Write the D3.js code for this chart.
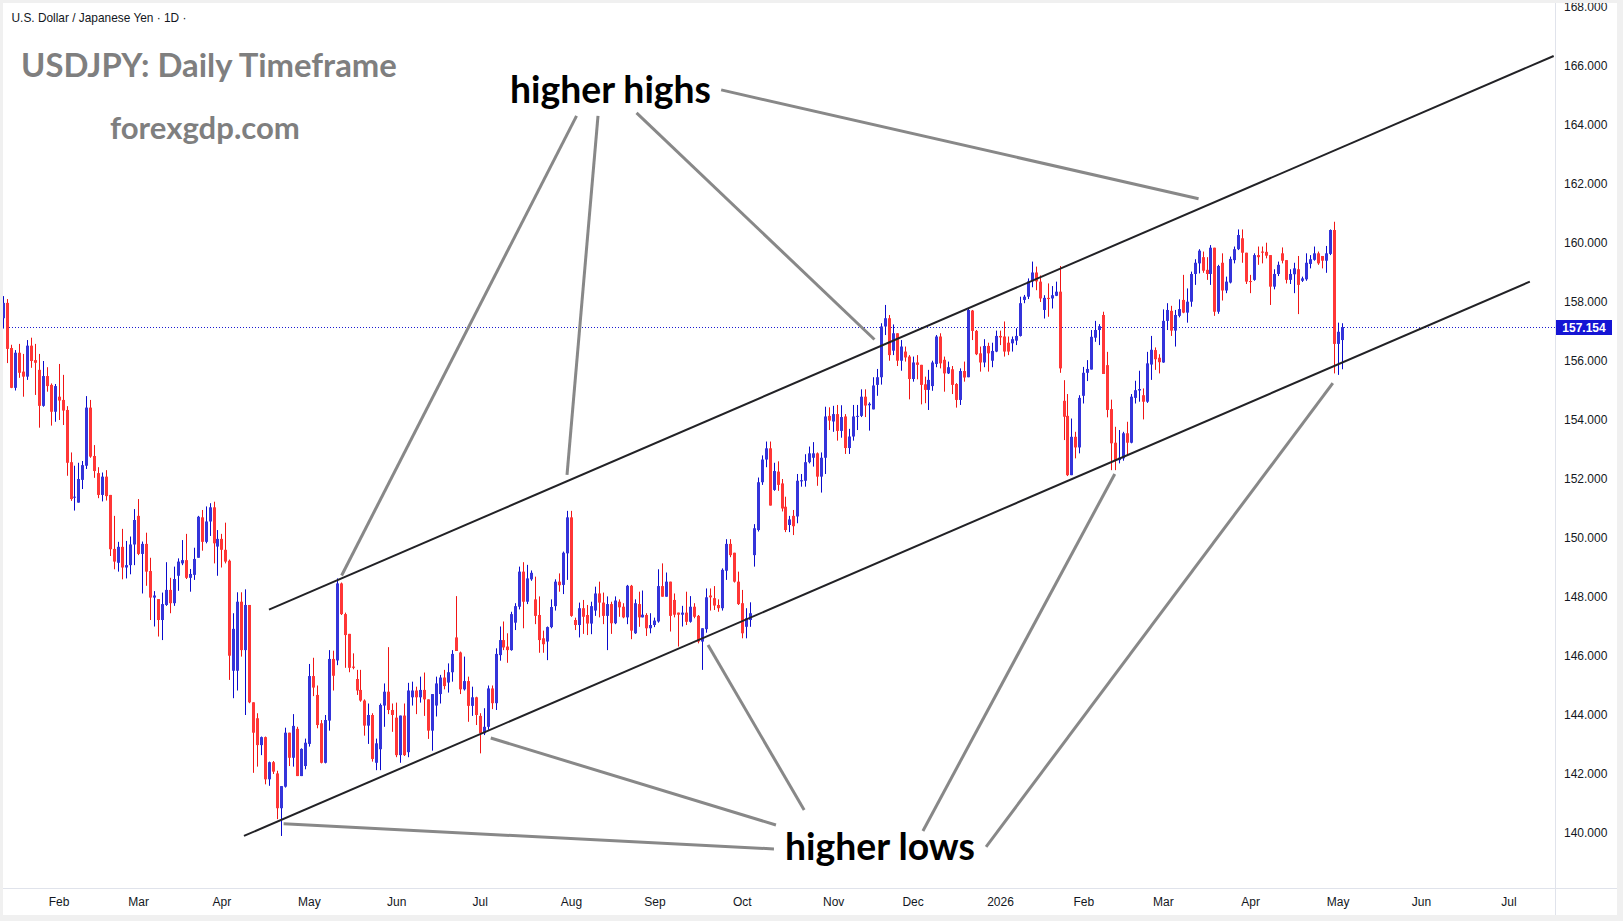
<!DOCTYPE html>
<html>
<head>
<meta charset="utf-8">
<script src="https://cdn.jsdelivr.net/npm/d3@7"></script>
<style>
  html, body { margin: 0; padding: 0; background: #f0f0f0; }
  svg { display: block; }
</style>
</head>
<body>
<div id="chart"></div>
<script>
const width = 1623, height = 921;

// daily candles from the first bar on, one row per trading day: [open, high, low, close]
const firstDay = "2025-01-14";
const ohlc = [
  [157.45,158.2,157.1,157.97],[157.97,158.1,155.93,156.41],[156.44,156.55,155.08,155.09],[155.09,156.37,155.0,156.28],
  [156.28,156.58,155.43,155.6],[155.64,156.24,154.79,155.47],[155.47,156.71,155.36,156.52],[156.52,156.79,155.77,156.0],
  [156.03,156.58,154.85,155.94],[155.7,156.24,153.74,154.48],[154.48,156.0,154.45,155.49],[155.49,155.79,154.96,155.15],
  [155.19,155.24,153.81,154.28],[154.28,155.22,153.94,155.15],[154.79,155.9,154.0,154.66],[154.68,155.53,153.83,154.32],
  [154.34,154.47,152.11,152.55],[152.57,152.9,151.26,151.32],[151.37,152.45,150.93,151.4],[151.2,152.55,151.2,152.0],
  [151.97,152.61,151.66,152.47],[152.45,154.81,152.34,154.42],[154.42,154.68,152.72,152.76],[152.78,153.15,152.04,152.27],
  [152.2,152.4,151.35,151.46],[151.46,152.22,151.24,152.08],[152.08,152.3,151.27,151.42],[151.46,151.46,149.39,149.62],
  [149.63,150.75,148.94,149.2],[149.16,149.87,148.86,149.7],[149.7,150.31,148.6,149.0],[149.0,149.9,148.63,149.08],
  [149.08,150.05,148.77,149.78],[149.78,150.98,149.08,150.61],[150.75,151.32,149.42,149.46],[149.46,149.88,148.12,149.8],
  [149.8,150.18,148.38,148.86],[148.88,149.33,147.22,147.98],[147.98,148.2,147.0,148.05],[147.93,147.93,146.66,147.22],
  [147.22,148.15,146.54,147.76],[147.73,149.18,147.7,148.24],[148.24,148.65,147.45,147.79],[147.79,149.03,147.7,148.61],
  [148.72,149.31,148.21,149.2],[149.14,149.93,149.08,149.25],[149.25,150.14,148.61,148.65],[148.65,148.95,148.18,148.78],
  [148.75,149.67,148.58,149.29],[149.33,150.75,149.33,150.72],[150.7,150.95,149.57,149.87],[149.87,151.07,149.82,150.56],
  [150.56,151.18,150.07,151.04],[151.04,151.23,149.14,149.82],[149.71,150.27,148.72,149.97],[149.97,150.14,149.0,149.6],
  [149.6,150.52,149.14,149.2],[149.23,149.27,145.19,146.01],[145.5,147.45,144.57,146.92],[145.5,148.16,144.83,147.84],
  [147.84,148.16,145.98,146.2],[146.2,148.26,144.0,147.73],[147.73,147.73,144.4,144.43],[144.43,144.43,142.04,143.4],
  [143.89,144.06,142.25,142.98],[142.98,143.27,142.64,143.25],[143.25,143.27,141.65,141.82],[141.82,142.42,141.6,142.4],
  [142.4,142.44,142.0,142.08],[142.02,142.11,140.47,140.84],[140.84,141.59,139.9,141.59],[141.57,143.57,141.54,143.4],
  [143.4,143.4,142.27,142.55],[142.55,144.03,142.25,143.63],[143.53,143.6,141.93,141.93],[141.93,142.87,141.93,142.85],
  [142.27,143.2,142.16,143.06],[143.02,145.73,142.93,145.32],[145.32,145.94,144.64,144.93],[144.68,145.0,143.55,143.66],
  [143.72,143.83,142.36,142.38],[142.38,144.0,142.36,143.83],[143.81,146.2,143.47,145.9],[145.9,146.18,144.83,145.33],
  [145.85,148.63,145.69,148.46],[148.46,148.49,147.39,147.42],[147.42,147.47,145.6,146.71],[146.75,146.75,145.45,145.6],
  [145.64,146.09,145.55,145.6],[145.22,145.53,144.68,144.83],[144.85,145.53,144.45,144.49],[144.49,144.53,143.3,143.64],
  [143.64,144.39,143.02,144.0],[144.0,144.06,142.42,142.51],[142.38,143.2,142.13,143.04],[142.84,144.39,142.13,144.34],
  [144.32,145.07,143.6,144.79],[144.79,146.3,144.03,144.17],[144.17,144.39,143.43,144.0],[143.91,144.42,142.57,142.64],
  [142.64,143.98,142.38,143.98],[143.98,144.39,142.61,142.64],[142.74,145.09,142.57,144.83],[144.6,145.13,144.32,144.83],
  [144.83,144.96,144.03,144.6],[144.6,145.3,144.42,144.85],[144.85,145.44,143.97,144.53],[144.53,144.53,143.19,143.47],
  [143.47,144.71,142.79,144.71],[144.32,145.3,143.95,145.07],[144.71,145.36,144.39,145.27],[145.27,145.53,144.87,144.98],
  [145.1,145.75,144.76,145.45],[145.45,146.2,145.13,146.07],[146.63,148.03,146.17,146.17],[146.12,146.15,144.71,144.87],
  [144.87,145.98,144.83,145.15],[145.15,145.3,143.77,144.31],[144.31,144.96,143.97,144.6],[144.6,144.62,143.66,144.0],
  [143.97,144.06,142.7,143.38],[143.38,144.23,143.32,143.6],[143.6,145.0,143.5,144.9],[144.9,145.0,144.2,144.4],
  [144.4,146.26,144.17,146.07],[146.03,147.0,145.84,146.54],[146.54,147.17,146.2,146.29],[146.32,146.77,145.77,146.2],
  [146.2,147.5,146.18,147.42],[147.13,147.79,146.88,147.69],[147.67,149.03,147.58,148.86],[148.86,149.18,146.94,147.84],
  [147.84,149.09,147.76,148.63],[148.6,148.9,148.55,148.82],[147.92,148.69,147.08,147.36],[147.39,148.02,146.11,146.54],
  [146.6,146.86,146.11,146.4],[146.49,147.0,145.86,146.98],[146.98,147.92,146.94,147.66],[147.69,148.6,147.54,148.52],
  [148.52,148.8,148.18,148.4],[148.41,149.54,148.1,149.5],[149.48,150.92,148.58,150.7],[150.7,150.92,147.33,147.36],
  [147.22,147.3,146.88,147.05],[147.05,147.81,146.63,147.62],[147.62,147.9,146.75,147.33],[147.39,147.73,146.71,147.1],
  [147.1,147.84,146.74,147.69],[147.54,148.35,147.36,148.12],[148.12,148.52,147.31,147.81],[147.81,148.15,147.08,147.36],
  [147.36,148.02,146.2,147.76],[147.76,147.84,146.75,147.11],[147.11,148.02,147.08,147.88],[147.84,147.92,147.33,147.65],
  [147.67,147.79,147.28,147.31],[147.31,148.41,147.08,148.38],[148.38,148.41,146.57,146.86],[146.77,147.92,146.75,147.79],
  [147.76,148.18,146.99,147.31],[147.31,148.22,147.31,147.4],[147.39,147.45,146.68,146.94],[146.94,147.45,146.77,147.05],
  [147.05,147.3,146.98,147.2],[147.17,148.94,147.13,148.37],[148.37,149.14,148.01,148.01],[148.01,148.83,148.01,148.52],
  [148.52,148.52,146.83,147.36],[147.9,148.12,147.31,147.4],[147.47,147.47,146.32,147.4],[147.4,147.7,147.0,147.47],
  [147.47,148.18,147.05,147.16],[147.16,148.03,147.13,147.67],[147.67,147.79,147.28,147.33],[147.36,147.39,146.43,146.49],
  [146.49,146.94,145.53,146.94],[146.91,148.29,146.79,147.99],[148.05,148.29,147.54,147.99],[147.96,148.37,147.56,147.71],
  [147.73,147.92,147.5,147.62],[147.62,148.97,147.54,148.92],[148.89,149.96,148.58,149.8],[149.8,149.96,149.35,149.42],
  [149.5,149.5,148.49,148.52],[148.52,148.86,147.73,147.76],[147.79,148.24,146.6,146.77],[146.99,147.62,146.6,147.28],
  [147.22,147.82,146.99,147.45],[149.42,150.47,149.03,150.33],[150.27,152.05,150.22,151.89],[151.89,152.8,151.8,152.66],
  [152.66,153.27,152.4,153.04],[153.04,153.27,151.1,151.1],[151.63,152.55,151.6,152.27],[152.25,152.6,151.6,151.8],
  [151.85,152.0,150.9,151.0],[151.06,151.4,150.2,150.27],[150.44,150.75,150.2,150.63],[150.75,150.95,150.1,150.4],
  [150.73,152.17,150.5,151.94],[151.92,152.17,151.74,151.96],[151.94,152.84,151.74,152.57],[152.57,153.1,152.53,152.87],
  [152.72,153.25,152.42,152.87],[152.87,152.9,151.77,152.08],[152.08,152.9,151.54,152.72],[152.72,154.45,152.17,154.12],
  [154.14,154.43,153.66,153.98],[153.95,154.48,153.6,154.2],[154.2,154.51,153.3,153.63],[153.63,154.5,153.4,154.1],
  [154.12,154.2,152.85,153.05],[153.05,153.7,152.85,153.44],[153.44,154.51,153.3,154.12],[154.12,154.51,153.66,154.14],
  [154.14,155.04,154.1,154.79],[154.79,155.04,154.1,154.49],[154.5,154.6,153.64,154.55],[154.36,155.45,154.36,155.17],
  [155.19,155.73,154.82,155.45],[155.45,157.28,155.2,157.17],[157.17,157.9,156.88,157.45],[157.45,157.56,156.01,156.2],
  [156.35,157.24,156.2,156.94],[156.94,156.94,155.83,156.01],[156.01,156.71,155.67,156.49],[156.32,156.49,155.98,156.12],
  [156.15,156.2,154.7,155.39],[155.39,156.15,155.3,155.95],[155.95,156.2,155.38,155.87],[155.87,155.87,154.53,155.19],
  [155.21,155.47,154.57,155.02],[155.02,155.7,154.34,155.36],[155.15,156.01,154.99,155.95],[155.9,156.88,155.79,156.83],
  [156.83,156.94,155.75,155.92],[156.04,156.15,154.96,155.58],[155.58,155.98,155.56,155.79],[155.72,155.83,154.88,155.19],
  [155.22,155.25,154.42,154.68],[154.68,155.75,154.51,155.66],[155.66,155.98,155.3,155.44],[155.45,157.79,155.45,157.73],
  [157.71,157.73,156.71,157.02],[157.02,157.05,156.2,156.23],[156.26,156.49,155.64,155.95],[155.95,156.74,155.79,156.51],
  [156.51,156.62,155.64,156.26],[156.01,156.62,155.79,156.34],[156.32,157.03,156.3,156.85],[156.85,157.03,156.54,156.8],
  [156.83,157.34,156.15,156.32],[156.62,156.83,156.2,156.32],[156.6,156.83,156.32,156.74],[156.69,157.11,156.54,156.85],
  [156.85,158.18,156.83,157.96],[158.07,158.24,157.96,158.18],[158.18,158.8,158.1,158.7],[158.7,159.37,158.5,159.0],
  [159.0,159.2,158.4,158.7],[158.69,158.9,158.0,158.12],[157.73,158.23,157.44,158.14],[158.14,158.63,157.5,158.1],
  [158.12,158.54,157.78,158.23],[158.21,158.69,158.2,158.35],[158.35,159.22,155.6,155.75],[154.65,155.35,153.32,154.11],
  [154.14,154.88,152.1,152.13],[152.13,154.05,152.13,153.43],[153.43,153.6,152.7,153.07],[153.07,154.84,152.87,154.75],
  [154.82,155.8,154.56,155.6],[155.6,156.03,155.32,155.73],[155.71,157.05,155.71,156.82],[156.79,157.36,156.65,157.05],
  [157.05,157.25,156.54,157.18],[157.56,157.67,155.56,155.56],[155.86,156.31,154.09,154.34],[154.37,154.69,152.3,153.21],
  [153.23,153.77,152.3,152.64],[152.64,153.66,152.53,152.72],[152.7,153.6,152.62,153.55],[153.55,153.94,152.81,153.23],
  [153.23,154.88,153.21,154.79],[154.75,155.33,154.56,155.01],[155.0,155.67,154.62,155.05],[154.84,155.07,154.02,154.62],
  [154.62,156.31,154.58,155.92],[155.88,156.85,155.36,156.38],[156.37,156.46,155.7,156.06],[156.11,156.23,155.58,155.96],
  [155.95,157.75,155.94,157.36],[157.36,157.96,157.05,157.73],[157.7,157.87,156.85,157.03],[157.03,157.73,156.49,157.56],
  [157.53,158.09,157.48,157.76],[158.07,158.92,157.62,157.64],[157.64,158.46,157.3,158.01],[158.01,159.03,157.84,158.95],
  [158.95,159.45,158.58,159.33],[159.31,159.79,158.97,159.74],[159.52,159.71,158.99,159.06],[159.09,159.52,158.75,158.95],
  [158.95,159.93,158.58,159.84],[159.84,159.84,157.53,157.67],[157.67,159.26,157.6,159.22],[159.33,159.65,158.05,158.39],
  [158.39,158.86,158.3,158.69],[158.66,159.54,158.63,159.46],[159.42,159.88,159.31,159.79],[159.79,160.46,159.76,160.27],
  [160.16,160.46,159.33,159.67],[159.67,159.67,158.61,158.69],[158.71,158.92,158.3,158.69],[158.75,159.65,158.72,159.59],
  [159.59,159.88,159.26,159.52],[159.71,159.88,159.31,159.67],[159.7,160.01,159.48,159.57],[159.59,159.59,157.9,158.52],
  [158.52,159.11,158.43,158.95],[158.95,159.37,158.88,159.26],[159.65,159.85,159.31,159.4],[159.42,159.42,158.63,158.75],
  [158.75,159.11,158.61,158.95],[158.94,159.33,158.3,159.14],[159.11,159.56,157.59,158.58],[158.72,158.86,158.68,158.8],
  [158.77,159.65,158.72,159.33],[159.29,159.59,159.14,159.45],[159.43,159.88,159.4,159.65],[159.65,159.71,159.26,159.31],
  [159.56,159.56,159.14,159.4],[159.4,159.9,158.99,159.65],[159.63,160.46,159.59,160.44],[160.44,160.72,155.58,156.58],
  [156.58,157.3,155.53,156.99],[156.71,157.28,155.72,157.15]
];

const lastPrice = 157.154;
const priceTicks = d3.range(140, 169, 2);
const monthKeys = ["2025-02","2025-03","2025-04","2025-05","2025-06","2025-07","2025-08","2025-09",
                   "2025-10","2025-11","2025-12","2026-01","2026-02","2026-03","2026-04","2026-05","2026-06","2026-07"];
const monthLabels = ["Feb","Mar","Apr","May","Jun","Jul","Aug","Sep","Oct","Nov","Dec","2026","Feb","Mar","Apr","May","Jun","Jul"];

// drawn lines, as [bar, price, bar, price]
const channelLines = [[66.97,147.57,390.4,166.34],[60.67,139.9,384.4,158.69]];
const pointerLines = [
  [144.4,164.31,85.25,148.73],[149.8,164.31,142.0,152.14],[159.5,164.41,219.4,156.73],[180.8,165.19,301.0,161.5],
  [194.1,139.46,70.65,140.31],[194.6,140.27,122.8,143.22],[201.7,140.78,177.5,146.37],
  [231.6,140.07,279.9,152.17],[247.5,139.53,334.8,155.25]
];

// trading days: weekdays, no bar on Dec 25 and Jan 1
const fmtDay = d3.utcFormat("%m-%d"), fmtMonth = d3.utcFormat("%Y-%m");
const days = [];
for (let d = d3.utcParse("%Y-%m-%d")(firstDay); days.length < 400; d = d3.utcDay.offset(d, 1)) {
  const wd = d.getUTCDay();
  if (wd === 0 || wd === 6) continue;
  if (fmtDay(d) === "12-25" || fmtDay(d) === "01-01") continue;
  days.push(d);
}
const monthIdx = monthKeys.map(k => days.findIndex(d => fmtMonth(d) === k));

const plot = {left: 3, top: 3, right: 1555, bottom: 888};

const xScale = d3.scaleLinear().domain([0, 380]).range([3, 3 + 380 * 3.972]);
const yScale = d3.scaleLinear().domain([140, 166]).range([833, 66]);

const svg = d3.select("#chart").append("svg")
    .attr("width", width)
    .attr("height", height);

svg.append("rect")
    .attr("x", 3).attr("y", 3)
    .attr("width", 1614).attr("height", 912)
    .attr("fill", "#ffffff");

const defs = svg.append("defs");
defs.append("clipPath").attr("id", "plotclip").append("rect")
    .attr("x", plot.left).attr("y", plot.top)
    .attr("width", plot.right - plot.left).attr("height", plot.bottom - plot.top);
defs.append("clipPath").attr("id", "panelclip").append("rect")
    .attr("x", 3).attr("y", 3).attr("width", 1614).attr("height", 912);

// axis borders
svg.append("line")
    .attr("x1", 1555.5).attr("x2", 1555.5).attr("y1", 3).attr("y2", 915)
    .attr("stroke", "#e0e3eb");
svg.append("line")
    .attr("x1", 3).attr("x2", 1617).attr("y1", 888.5).attr("y2", 888.5)
    .attr("stroke", "#e0e3eb");

const g = svg.append("g").attr("clip-path", "url(#plotclip)");

// last price dotted line
const yLast = Math.round(yScale(lastPrice)) + 0.5;
g.append("line")
    .attr("x1", plot.left).attr("x2", plot.right)
    .attr("y1", yLast).attr("y2", yLast)
    .attr("stroke", "#1a1ad2")
    .attr("stroke-width", 1)
    .attr("stroke-dasharray", "1,2");

// candles
const candles = g.selectAll("g.candle")
    .data(ohlc)
    .enter()
    .append("g")
    .attr("class", "candle");

candles.append("rect")
    .attr("x", (d, i) => Math.round(xScale(i)))
    .attr("width", 1)
    .attr("y", d => yScale(d3.max(d)))
    .attr("height", d => Math.max(1, yScale(d3.min(d)) - yScale(d3.max(d))))
    .attr("fill", d => d[3] >= d[0] ? "#0a0acc" : "#f01515");

candles.append("rect")
    .attr("x", (d, i) => Math.round(xScale(i)) - 1)
    .attr("width", 3)
    .attr("y", d => yScale(Math.max(d[0], d[3])))
    .attr("height", d => Math.max(1, Math.abs(yScale(d[0]) - yScale(d[3]))))
    .attr("fill", d => d[3] >= d[0] ? "#3434da" : "#ff3636");

// channel
g.selectAll("line.channel")
    .data(channelLines)
    .enter()
    .append("line")
    .attr("class", "channel")
    .attr("x1", d => xScale(d[0])).attr("y1", d => yScale(d[1]))
    .attr("x2", d => xScale(d[2])).attr("y2", d => yScale(d[3]))
    .attr("stroke", "#222226")
    .attr("stroke-width", 2);

// grey pointers
g.selectAll("line.pointer")
    .data(pointerLines)
    .enter()
    .append("line")
    .attr("class", "pointer")
    .attr("x1", d => xScale(d[0])).attr("y1", d => yScale(d[1]))
    .attr("x2", d => xScale(d[2])).attr("y2", d => yScale(d[3]))
    .attr("stroke", "#888888")
    .attr("stroke-width", 3);

function fitText(t, w) {
  const fs = parseFloat(t.attr("font-size"));
  const len = t.node().getComputedTextLength();
  if (len > 0) t.attr("font-size", fs * w / len);
}

const labelFont = "Lato, 'Open Sans', sans-serif";

fitText(g.append("text")
    .attr("x", 510).attr("y", 103)
    .attr("font-family", labelFont).attr("font-weight", 700)
    .attr("font-size", 38).attr("fill", "#000")
    .text("higher highs"), 201);

fitText(g.append("text")
    .attr("x", 785).attr("y", 859.5)
    .attr("font-family", labelFont).attr("font-weight", 700)
    .attr("font-size", 38).attr("fill", "#000")
    .text("higher lows"), 190);

// header
fitText(svg.append("text")
    .attr("x", 11.5).attr("y", 21.5)
    .attr("font-family", "'Liberation Sans', Arial, sans-serif")
    .attr("font-size", 12).attr("fill", "#131722")
    .text("U.S. Dollar / Japanese Yen \u00b7 1D \u00b7"), 175);

fitText(svg.append("text")
    .attr("x", 21).attr("y", 77)
    .attr("font-family", labelFont).attr("font-weight", 700)
    .attr("font-size", 32).attr("fill", "#7f7f7f")
    .text("USDJPY: Daily Timeframe"), 376);

fitText(svg.append("text")
    .attr("x", 110).attr("y", 139)
    .attr("font-family", labelFont).attr("font-weight", 700)
    .attr("font-size", 30).attr("fill", "#7f7f7f")
    .text("forexgdp.com"), 190);

// price axis
const yAxis = svg.append("g")
    .attr("clip-path", "url(#panelclip)")
    .append("g")
    .attr("transform", "translate(1556,0)")
    .call(d3.axisRight(yScale).tickValues(priceTicks).tickFormat(d3.format(".3f")).tickSize(0).tickPadding(8));
yAxis.select(".domain").remove();
yAxis.selectAll("text")
    .attr("font-family", "'Liberation Sans', Arial, sans-serif")
    .attr("font-size", 12)
    .attr("fill", "#131722");

// time axis
const xAxis = svg.append("g")
    .attr("transform", "translate(0,888)")
    .call(d3.axisBottom(xScale).tickValues(monthIdx).tickFormat((d, i) => monthLabels[i]).tickSize(0).tickPadding(9));
xAxis.select(".domain").remove();
xAxis.selectAll("text")
    .attr("font-family", "'Liberation Sans', Arial, sans-serif")
    .attr("font-size", 12)
    .attr("fill", "#131722");

// last price tag
svg.append("rect")
    .attr("x", 1556).attr("y", yLast - 7.5)
    .attr("width", 56).attr("height", 15)
    .attr("fill", "#1515d4");
svg.append("text")
    .attr("x", 1584).attr("y", yLast + 4.5)
    .attr("text-anchor", "middle")
    .attr("font-family", "'Liberation Sans', Arial, sans-serif")
    .attr("font-weight", 700)
    .attr("font-size", 12)
    .attr("fill", "#ffffff")
    .text(d3.format(".3f")(lastPrice));
</script>
</body>
</html>
